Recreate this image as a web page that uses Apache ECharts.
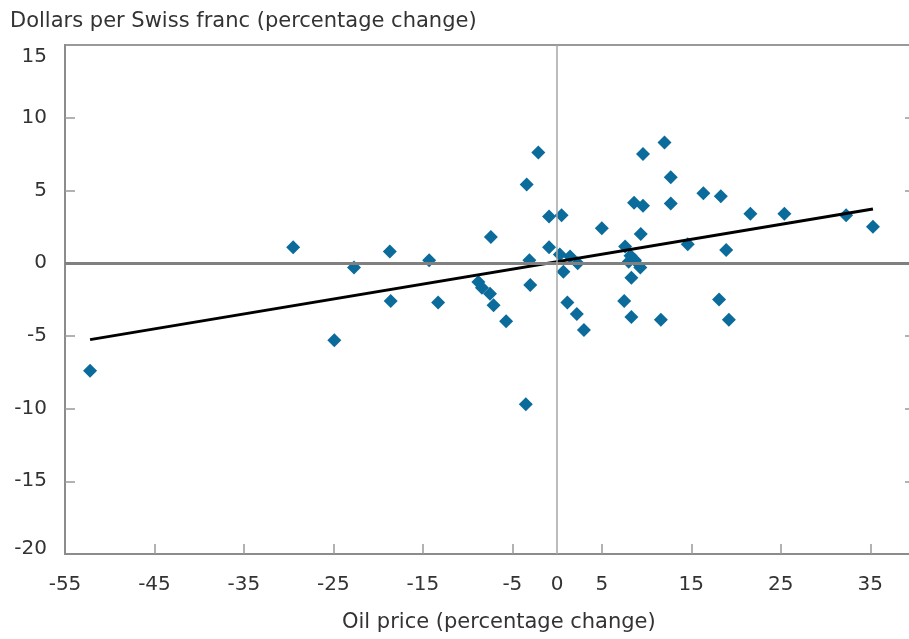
<!DOCTYPE html>
<html>
<head>
<meta charset="utf-8">
<script src="https://cdn.jsdelivr.net/npm/echarts@6/dist/echarts.min.js"></script>
<style>
  html, body { margin: 0; padding: 0; background: #fff; }
  #chart { width: 909px; height: 639px; }
</style>
</head>
<body>
<div id="chart"></div>
<script>
// Oil price change (x) vs. dollars per Swiss franc change (y), in percent
const oilChange = [
  -52.2, -29.5, -24.9, -22.7, -18.7, -18.6, -14.3, -13.3,
  -8.8, -8.4, -7.5, -7.1, -7.4, -5.7, -3.4, -3.5, -3.1, -3.0,
  -2.1, -0.9, -0.9, 0.5, 0.3, 1.45, 2.3, 0.7, 1.15, 2.2, 3.0,
  5.0, 7.6, 8.2, 8.0, 8.7, 9.3, 8.3, 7.5, 8.3, 9.6, 8.6, 9.6,
  9.35, 11.6, 12.0, 12.7, 12.7, 14.6, 16.35, 18.3, 18.1, 18.9,
  19.2, 21.6, 25.4, 32.3, 35.3
];
const francChange = [
  -7.4, 1.1, -5.3, -0.3, 0.8, -2.6, 0.2, -2.7,
  -1.3, -1.7, -2.1, -2.9, 1.8, -4.0, 5.4, -9.7, 0.2, -1.5,
  7.6, 3.2, 1.1, 3.3, 0.6, 0.45, 0.0, -0.6, -2.7, -3.5, -4.6,
  2.4, 1.15, 0.5, 0.1, 0.2, -0.3, -1.0, -2.6, -3.7, 7.5, 4.15, 3.95,
  2.0, -3.9, 8.3, 5.9, 4.1, 1.3, 4.8, 4.6, -2.5, 0.9,
  -3.9, 3.4, 3.4, 3.3, 2.5
];
// Fitted regression line endpoints
const fitX = [-52.2, 35.3];
const fitY = [-5.26, 3.72];

// Axis ticks and labels
const xLabelValues = [-55, -45, -35, -25, -15, -5, 0, 5, 15, 25, 35];
const xTickValues = [-45, -35, -25, -15, -5, 5, 15, 25, 35];
const yTickValues = [-15, -10, -5, 0, 5, 10];

const FONT = 'DejaVu Sans';
const TEXT = '#333333';
const AXIS = '#8c8c8c';

const chart = echarts.init(document.getElementById('chart'), null, { renderer: 'canvas' });

const points = oilChange.map((x, i) => [x, francChange[i]]);
const fit = fitX.map((x, i) => [x, fitY[i]]);

chart.setOption({
  animation: false,
  backgroundColor: '#ffffff',
  title: [
    {
      text: 'Dollars per Swiss franc (percentage change)',
      left: 10, top: 11, padding: 0,
      textStyle: { fontFamily: FONT, fontSize: 21, fontWeight: 'normal', color: TEXT }
    },
    {
      text: 'Oil price (percentage change)',
      left: 342, top: 612, padding: 0,
      textStyle: { fontFamily: FONT, fontSize: 21, fontWeight: 'normal', color: TEXT }
    }
  ],
  grid: {
    left: 65, top: 45, width: 850, height: 509,
    outerBoundsMode: 'none',
    containLabel: false,
    show: true, borderColor: '#999999', borderWidth: 2,
    backgroundColor: 'transparent'
  },
  xAxis: {
    type: 'value',
    min: -55, max: 40, interval: 5,
    splitLine: { show: false },
    axisLine: { show: true, onZero: false, lineStyle: { color: AXIS, width: 2 } },
    axisTick: {
      show: true, inside: true, length: 10,
      customValues: xTickValues,
      lineStyle: { color: '#999999', width: 1.5 }
    },
    axisLabel: {
      customValues: xLabelValues,
      margin: 21,
      fontFamily: FONT, fontSize: 20, color: TEXT
    }
  },
  yAxis: [
    {
      type: 'value',
      min: -20, max: 15, interval: 5,
      splitLine: { show: false },
      axisLine: { show: true, onZero: false, lineStyle: { color: AXIS, width: 2 } },
      axisTick: {
        show: true, inside: true, length: 10,
        customValues: yTickValues,
        lineStyle: { color: '#999999', width: 1.5 }
      },
      axisLabel: {
        margin: 18,
        fontFamily: FONT, fontSize: 20, color: TEXT,
        formatter: function (v) {
          if (v === 15) return '{top|' + v + '}';
          if (v === -20) return '{bot|' + v + '}';
          return String(v);
        },
        rich: {
          top: { fontFamily: FONT, fontSize: 20, color: TEXT, padding: [24, 0, 0, 0] },
          bot: { fontFamily: FONT, fontSize: 20, color: TEXT, padding: [0, 0, 10, 0] }
        }
      }
    },
    {
      type: 'value',
      position: 'right',
      min: -20, max: 15, interval: 5,
      splitLine: { show: false },
      axisLine: { show: true, onZero: false, lineStyle: { color: AXIS, width: 2 } },
      axisTick: {
        show: true, inside: true, length: 10,
        customValues: yTickValues,
        lineStyle: { color: '#999999', width: 1.5 }
      },
      axisLabel: { show: false }
    }
  ],
  series: [
    {
      name: 'zero lines',
      type: 'line',
      data: [],
      silent: true,
      markLine: {
        silent: true,
        symbol: ['none', 'none'],
        label: { show: false },
        data: [
          { yAxis: 0, lineStyle: { color: '#808080', width: 3, type: 'solid' } },
          { xAxis: 0, lineStyle: { color: '#a6a6a6', width: 1.5, type: 'solid' } }
        ]
      },
      z: 1
    },
    {
      name: 'observations',
      type: 'scatter',
      data: points,
      symbol: 'diamond',
      symbolSize: 14,
      itemStyle: { color: '#0b6b9b', opacity: 1 },
      z: 3
    },
    {
      name: 'fit',
      type: 'line',
      data: fit,
      showSymbol: false,
      symbol: 'none',
      lineStyle: { color: '#000000', width: 3 },
      z: 4
    }
  ]
});
</script>
</body>
</html>
